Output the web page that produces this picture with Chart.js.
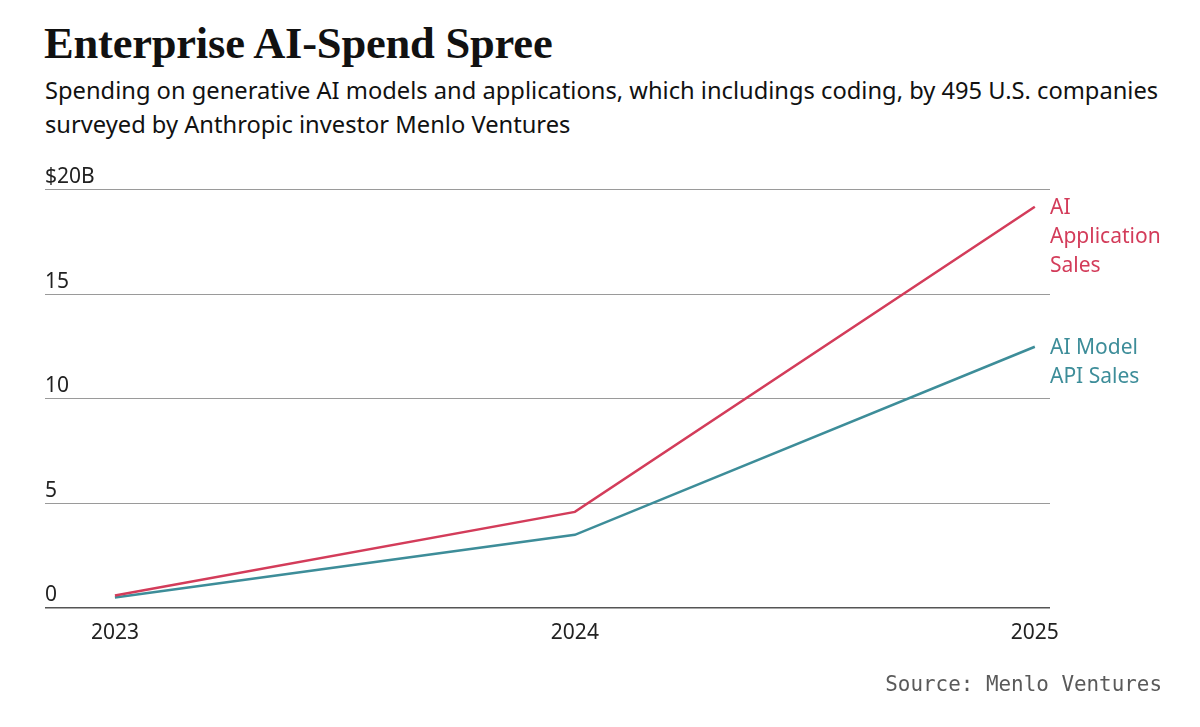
<!DOCTYPE html>
<html>
<head>
<meta charset="utf-8">
<script src="https://cdn.jsdelivr.net/npm/chart.js@4.4.1/dist/chart.umd.min.js"></script>
<style>
    body{margin:0; background:#fff; width:1200px; height:727px; overflow:hidden; position:relative;}
    #myChart{position:absolute; left:0; top:0;}
    .title{position:absolute; left:44px; top:17px; font-family:"Liberation Serif", serif; font-weight:bold; font-size:44.5px; color:#111; white-space:nowrap; letter-spacing:-0.2px;}
    .sub{position:absolute; left:45px; top:73px; font-family:"Noto Sans", sans-serif; font-size:23.7px; line-height:34px; color:#111; white-space:nowrap;}
    .source{position:absolute; right:38px; top:672px; font-family:"DejaVu Sans Mono", monospace; font-size:20.9px; color:#5a5a5a; white-space:nowrap;}
</style>
</head>
<body>
<div class="title">Enterprise AI-Spend Spree</div>
<div class="sub">Spending on generative AI models and applications, which includings coding, by 495 U.S. companies<br>surveyed by Anthropic investor Menlo Ventures</div>
<canvas id="myChart" width="1200" height="727"></canvas>
<div class="source">Source: Menlo Ventures</div>

<script>
    // data, $ billions
    var years = [2023, 2024, 2025];
    var appSales = [0.6, 4.6, 19.2];
    var modelSales = [0.5, 3.5, 12.5];
    var yTicks = [0, 5, 10, 15, 20];
    var yTickLabels = ['0', '5', '10', '15', '$20B'];
    var appLabel = ['AI', 'Application', 'Sales'];
    var modelLabel = ['AI Model', 'API Sales'];

    var red = '#d33c5a';
    var teal = '#3d8d99';

    function points(vals){
        return years.map(function(y, i){ return {x: y, y: vals[i]}; });
    }

    var labelPlugin = {
        id: 'labels',
        afterDraw: function(chart){
            var c = chart.ctx;
            var xs = chart.scales.x, ys = chart.scales.y;
            c.save();
            c.font = '21px "Noto Sans", sans-serif';
            c.fillStyle = '#222';
            c.textAlign = 'left';
            c.textBaseline = 'alphabetic';
            for(var i = 0; i < yTicks.length; i ++){
                c.fillText(yTickLabels[i], chart.chartArea.left, ys.getPixelForValue(yTicks[i]) - 7);
            }
            c.textAlign = 'center';
            for(var j = 0; j < years.length; j ++){
                c.fillText(String(years[j]), xs.getPixelForValue(years[j]), chart.chartArea.bottom + 31);
            }
            // end-of-line labels
            c.font = '21px "Noto Sans", sans-serif';
            c.textAlign = 'left';
            var lx = chart.chartArea.right;
            c.fillStyle = red;
            var ay = ys.getPixelForValue(appSales[appSales.length - 1]) + 7;
            appLabel.forEach(function(t, k){ c.fillText(t, lx, ay + k * 29); });
            c.fillStyle = teal;
            var my = ys.getPixelForValue(modelSales[modelSales.length - 1]) + 7;
            modelLabel.forEach(function(t, k){ c.fillText(t, lx, my + k * 29); });
            c.restore();
        }
    };

    new Chart(document.getElementById('myChart').getContext('2d'), {
        type: 'line',
        data: {
            datasets: [
                {label: 'AI Application Sales', data: points(appSales), borderColor: red, borderWidth: 2.5, pointRadius: 0, tension: 0},
                {label: 'AI Model API Sales', data: points(modelSales), borderColor: teal, borderWidth: 2.5, pointRadius: 0, tension: 0}
            ]
        },
        options: {
            responsive: false,
            animation: false,
            events: [],
            layout: {padding: {left: 45, right: 150, top: 190, bottom: 119}},
            plugins: {legend: {display: false}, tooltip: {enabled: false}},
            scales: {
                x: {
                    type: 'linear',
                    min: 2022.848,
                    max: 2025.033,
                    grid: {display: false},
                    border: {display: false},
                    ticks: {display: false},
                    afterBuildTicks: function(s){ s.ticks = years.map(function(v){ return {value: v}; }); },
                    afterFit: function(s){ s.height = 0; }
                },
                y: {
                    min: 0,
                    max: 20,
                    border: {display: false},
                    ticks: {display: false},
                    afterBuildTicks: function(s){ s.ticks = yTicks.map(function(v){ return {value: v}; }); },
                    afterFit: function(s){ s.width = 0; },
                    grid: {
                        drawTicks: false,
                        color: function(ctx){ return ctx.tick && ctx.tick.value === 0 ? '#555' : '#9a9a9a'; },
                        lineWidth: function(ctx){ return ctx.tick && ctx.tick.value === 0 ? 1.6 : 1.1; }
                    }
                }
            }
        },
        plugins: [labelPlugin]
    });
</script>
</body>
</html>
